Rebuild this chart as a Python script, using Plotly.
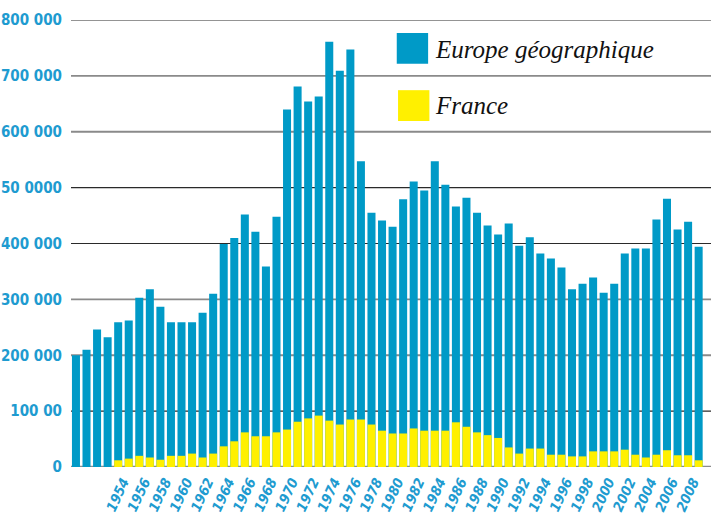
import plotly.graph_objects as go

years = list(range(1950, 2010))

europe = [200000, 210000, 246000, 232000, 259000, 262000, 303000, 318000, 287000, 259000,
          259000, 259000, 276000, 310000, 399000, 410000, 452000, 421000, 359000, 448000,
          640000, 681000, 654000, 663000, 761000, 709000, 747000, 547000, 455000, 441000,
          430000, 479000, 511000, 495000, 547000, 505000, 466000, 482000, 455000, 432000,
          416000, 436000, 396000, 411000, 382000, 373000, 357000, 318000, 328000, 339000,
          312000, 328000, 382000, 391000, 391000, 443000, 480000, 425000, 439000, 394000]

france = [0, 0, 0, 0, 12000, 15000, 20000, 17000, 13000, 20000,
          20000, 24000, 17000, 24000, 37000, 46000, 62000, 55000, 55000, 62000,
          67000, 81000, 87000, 92000, 83000, 76000, 85000, 85000, 76000, 65000,
          60000, 60000, 69000, 65000, 65000, 65000, 80000, 72000, 62000, 57000,
          52000, 35000, 24000, 33000, 33000, 22000, 22000, 19000, 19000, 28000,
          28000, 28000, 31000, 22000, 17000, 22000, 30000, 21000, 21000, 12000]

y_tickvals = [0, 100000, 200000, 300000, 400000, 500000, 600000, 700000, 800000]
y_ticktext = ["0", "100 00", "200 000", "300 000", "400 000", "50 0000", "600 000", "700 000", "800 000"]
grid_dark = [False, True, False, False, True, True, False, False, True]

x_tickvals = list(range(1954, 2009, 2))
x_ticktext = [str(y) for y in x_tickvals]

series_names = ["Europe géographique", "France"]

BLUE = "#009AC7"
YELLOW = "#FFF000"
TXT = "#1E9BD0"
COND = "DejaVu Sans Condensed, Liberation Sans Narrow, Roboto Condensed, Roboto, sans-serif"

fig = go.Figure()
fig.add_trace(go.Bar(x=years, y=europe, name=series_names[0], marker_color=BLUE,
                     marker_line_width=0))
fig.add_trace(go.Bar(x=years, y=france, name=series_names[1], marker_color=YELLOW,
                     marker_line_width=0))

shapes = []
for v, dark in zip(y_tickvals, grid_dark):
    if v == 0:
        col, w = "#8c8c8c", 2.5
    elif dark:
        col, w = "#2a2a2a", 1.2
    else:
        col, w = "#8a8a8a", 1.8
    shapes.append(dict(type="line", xref="paper", yref="y", x0=0, x1=1, y0=v, y1=v,
                       line=dict(color=col, width=w), layer="below"))

# legend squares
shapes.append(dict(type="rect", xref="paper", yref="paper", x0=0.509, x1=0.558,
                   y0=0.902, y1=0.971, fillcolor=BLUE, line_width=0))
shapes.append(dict(type="rect", xref="paper", yref="paper", x0=0.511, x1=0.560,
                   y0=0.774, y1=0.843, fillcolor=YELLOW, line_width=0))

annotations = [
    dict(text=series_names[0], xref="paper", yref="paper", x=0.566, y=0.935,
         xanchor="left", yanchor="middle", showarrow=False,
         font=dict(family="Liberation Serif", size=25, color="#111111", style="italic")),
    dict(text=series_names[1], xref="paper", yref="paper", x=0.566, y=0.808,
         xanchor="left", yanchor="middle", showarrow=False,
         font=dict(family="Liberation Serif", size=25, color="#111111", style="italic")),
]

fig.update_layout(
    width=711, height=519,
    margin=dict(l=71, r=0, t=20, b=52),
    paper_bgcolor="white", plot_bgcolor="white",
    barmode="overlay", bargap=0.24, showlegend=False,
    shapes=shapes, annotations=annotations,
    xaxis=dict(range=[1949.53, 2010.17], tickvals=x_tickvals, ticktext=x_ticktext,
               tickangle=-65, showgrid=False, zeroline=False, showline=False,
               ticks="", ticklabelstandoff=3, ticklabelshift=5, automargin=False,
               tickfont=dict(family=COND, size=14,
                             color=TXT, weight="bold", style="italic")),
    yaxis=dict(range=[0, 800000], tickvals=y_tickvals, ticktext=y_ticktext,
               showgrid=False, zeroline=False, showline=False, ticks="",
               ticklabelstandoff=8, automargin=False,
               tickfont=dict(family=COND, size=15, weight="bold",
                             color=TXT)),
)

fig.write_html("out.html", config={"displayModeBar": False},
               post_script="document.body.style.margin='0px';document.body.style.overflow='hidden';")
